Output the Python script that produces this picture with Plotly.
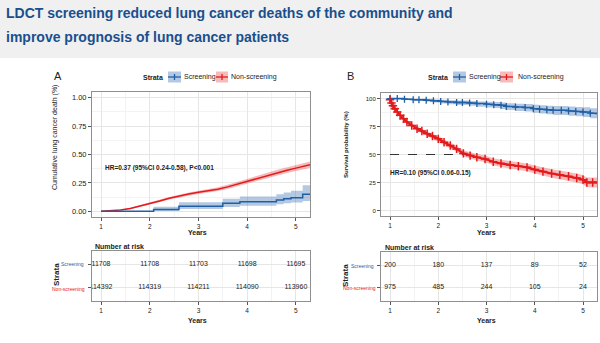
import plotly.graph_objects as go

W, H = 600, 343
def px(x): return x / W
def py(y): return 1 - y / H

# ---------------- data ----------------
title_lines = ["LDCT screening reduced lung cancer deaths of the community and",
               "improve prognosis of lung cancer patients"]
years_ticks = [1, 2, 3, 4, 5]
strata = ["Screening", "Non-screening"]

# Panel A: cumulative lung cancer death
a_ns_t = [1.0, 1.2, 1.4, 1.6, 1.8, 2.0, 2.2, 2.4, 2.6, 2.8, 3.0, 3.2, 3.4, 3.6, 3.8, 4.0, 4.2, 4.4, 4.6, 4.8, 5.0, 5.2, 5.29]
a_ns_v = [0, 0.004, 0.012, 0.025, 0.045, 0.068, 0.09, 0.115, 0.135, 0.152, 0.167, 0.18, 0.195, 0.215, 0.24, 0.265, 0.29, 0.315, 0.34, 0.36, 0.38, 0.40, 0.41]
a_ns_lo = [0, 0.002, 0.008, 0.019, 0.037, 0.058, 0.079, 0.103, 0.122, 0.138, 0.152, 0.164, 0.178, 0.197, 0.220, 0.244, 0.268, 0.292, 0.316, 0.335, 0.354, 0.373, 0.382]
a_ns_hi = [0, 0.006, 0.016, 0.031, 0.053, 0.078, 0.101, 0.127, 0.148, 0.166, 0.182, 0.196, 0.212, 0.233, 0.260, 0.286, 0.312, 0.338, 0.364, 0.385, 0.406, 0.427, 0.438]

a_s_t = [1.0, 2.08, 2.6, 3.5, 3.85, 4.6, 4.75, 4.9, 5.14, 5.29]
a_s_v = [0, 0.015, 0.045, 0.07, 0.085, 0.10, 0.11, 0.12, 0.15, 0.15]
a_s_lo = [0, 0.003, 0.02, 0.038, 0.05, 0.062, 0.07, 0.078, 0.09, 0.09]
a_s_hi = [0, 0.04, 0.08, 0.11, 0.13, 0.15, 0.165, 0.18, 0.23, 0.23]

# Panel B: survival probability (%)
b_s_t = [1.0, 1.15, 1.3, 1.48, 1.6, 1.75, 1.9, 2.05, 2.2, 2.38, 2.5, 2.65, 2.8, 3.0, 3.15, 3.3, 3.41, 3.6, 3.8, 3.97, 4.1, 4.25, 4.38, 4.55, 4.7, 4.85, 5.0, 5.15, 5.32]
b_s_v = [100, 100, 99.5, 99, 99, 98.5, 98, 97.5, 97, 96.5, 96.5, 96, 95.5, 95, 94.5, 94, 93, 92.5, 92, 91, 90.5, 90, 89.5, 89.5, 89, 88.5, 88, 87, 86.5]
b_s_lo = [100, 99.5, 98.8, 98, 97.8, 97.1, 96.4, 95.7, 95, 94.3, 94.2, 93.5, 92.8, 92.1, 91.5, 90.8, 89.7, 89, 88.4, 87.3, 86.7, 86, 85.4, 85.3, 84.7, 84.1, 83.5, 82.4, 81.8]
b_s_hi = [100, 100, 100, 99.8, 99.8, 99.5, 99.2, 98.9, 98.5, 98.2, 98.2, 97.9, 97.5, 97.2, 96.9, 96.5, 95.8, 95.4, 95.1, 94.4, 94, 93.6, 93.3, 93.3, 92.9, 92.5, 92.2, 91.4, 91]

b_ns_t = [1.0, 1.03, 1.06, 1.1, 1.15, 1.21, 1.28, 1.35, 1.45, 1.56, 1.66, 1.77, 1.88, 2.0, 2.12, 2.25, 2.38, 2.52, 2.66, 2.8, 2.97, 3.14, 3.3, 3.49, 3.66, 3.84, 4.0, 4.17, 4.35, 4.52, 4.7, 4.87, 5.0, 5.08, 5.2, 5.32]
b_ns_v = [99, 96, 93.5, 91, 88, 85, 82, 79, 76, 73, 71, 68.5, 66.5, 64, 61, 58, 55, 51, 49, 47.5, 46, 43.5, 42, 40.6, 39.5, 38.5, 36.5, 34.7, 33, 31.8, 30.5, 29, 27.5, 25, 25, 25]
b_ns_lo = [98, 94.8, 92.2, 89.6, 86.5, 83.4, 80.3, 77.2, 74.1, 71, 69, 66.4, 64.3, 61.7, 58.6, 55.5, 52.4, 48.3, 46.2, 44.6, 43, 40.4, 38.8, 37.3, 36.1, 35, 32.9, 31, 29.2, 27.9, 26.5, 24.9, 23.3, 20.6, 20.5, 20.5]
b_ns_hi = [100, 97.2, 94.8, 92.4, 89.5, 86.6, 83.7, 80.8, 77.9, 75, 73, 70.6, 68.7, 66.3, 63.4, 60.5, 57.6, 53.7, 51.8, 50.4, 49, 46.6, 45.2, 43.9, 42.9, 42, 40.1, 38.4, 36.8, 35.7, 34.5, 33.1, 31.7, 29.4, 29.5, 29.5]
b_median_ns = 2.55

# Number at risk
risk_a_s = [11708, 11708, 11703, 11698, 11695]
risk_a_ns = [114392, 114319, 114211, 114090, 113960]
risk_b_s = [200, 180, 137, 89, 52]
risk_b_ns = [975, 485, 244, 105, 24]

hr_a = "HR=0.37 (95%CI 0.24-0.58), P<0.001"
hr_b = "HR=0.10 (95%CI 0.06-0.15)"

# ---------------- style ----------------
FONT = "Liberation Sans, Arial, sans-serif"
RED = "#e31a1c"
BLUE = "#1f5fa6"
RED_BAND = "rgba(228,26,28,0.30)"
BLUE_BAND = "rgba(40,100,170,0.35)"
GRID = "#e6e6e6"
MINOR = "#f3f3f3"
BORDER = "#8f8f8f"
TXT = "#222222"

fig = go.Figure()

def band(x, lo, hi, color, xa, ya, shape):
    fig.add_trace(go.Scatter(x=x, y=lo, mode="lines", line=dict(width=0, shape=shape),
                             xaxis=xa, yaxis=ya, showlegend=False, hoverinfo="skip"))
    fig.add_trace(go.Scatter(x=x, y=hi, mode="lines", line=dict(width=0, shape=shape),
                             fill="tonexty", fillcolor=color,
                             xaxis=xa, yaxis=ya, showlegend=False, hoverinfo="skip"))

# Panel A
band(a_ns_t, a_ns_lo, a_ns_hi, RED_BAND, "x", "y", "linear")
band(a_s_t, a_s_lo, a_s_hi, BLUE_BAND, "x", "y", "hv")
fig.add_trace(go.Scatter(x=a_ns_t, y=a_ns_v, mode="lines", line=dict(color=RED, width=1.5),
                         xaxis="x", yaxis="y", showlegend=False))
fig.add_trace(go.Scatter(x=a_s_t, y=a_s_v, mode="lines", line=dict(color=BLUE, width=1.5, shape="hv"),
                         xaxis="x", yaxis="y", showlegend=False))

# Panel B
band(b_s_t, b_s_lo, b_s_hi, BLUE_BAND, "x2", "y2", "hv")
band(b_ns_t, b_ns_lo, b_ns_hi, RED_BAND, "x2", "y2", "linear")
fig.add_trace(go.Scatter(x=[1, b_median_ns], y=[50, 50], mode="lines",
                         line=dict(color="#333333", width=1, dash="dash"),
                         xaxis="x2", yaxis="y2", showlegend=False))
fig.add_trace(go.Scatter(x=b_s_t, y=b_s_v, mode="lines+markers",
                         line=dict(color=BLUE, width=1.5, shape="hv"),
                         marker=dict(symbol="cross-thin", size=5, line=dict(color=BLUE, width=1.3)),
                         xaxis="x2", yaxis="y2", showlegend=False))
fig.add_trace(go.Scatter(x=b_ns_t, y=b_ns_v, mode="lines+markers",
                         line=dict(color=RED, width=2.2),
                         marker=dict(symbol="cross-thin", size=6, line=dict(color=RED, width=1.5)),
                         xaxis="x2", yaxis="y2", showlegend=False))

# Risk tables
for xa, ya, s_vals, ns_vals in (("x3", "y3", risk_a_s, risk_a_ns), ("x4", "y4", risk_b_s, risk_b_ns)):
    fig.add_trace(go.Scatter(x=years_ticks, y=[2] * 5, text=[str(v) for v in s_vals], mode="text",
                             textfont=dict(size=7, color=TXT, family=FONT), xaxis=xa, yaxis=ya, showlegend=False))
    fig.add_trace(go.Scatter(x=years_ticks, y=[1] * 5, text=[str(v) for v in ns_vals], mode="text",
                             textfont=dict(size=7, color=TXT, family=FONT), xaxis=xa, yaxis=ya, showlegend=False))

def xax(dom, rng, anchor):
    return dict(domain=[px(dom[0]), px(dom[1])], range=rng, anchor=anchor,
                tickvals=years_ticks, ticks="outside", ticklen=3, tickcolor="#555",
                tickfont=dict(size=6.5, color=TXT, family=FONT),
                showgrid=True, gridcolor=GRID, gridwidth=1,
                minor=dict(dtick=0.5, tick0=0.5, showgrid=True, gridcolor=MINOR, ticks=""),
                showline=True, mirror=True, linecolor=BORDER, linewidth=1, zeroline=False)

def yax(dom, rng, anchor, vals, texts, minor_dtick, size=7):
    return dict(domain=[py(dom[1]), py(dom[0])], range=rng, anchor=anchor,
                tickvals=vals, ticktext=texts, ticks="outside", ticklen=3, tickcolor="#555",
                tickfont=dict(size=size, color=TXT, family=FONT),
                showgrid=True, gridcolor=GRID, gridwidth=1,
                minor=dict(dtick=minor_dtick, tick0=0, showgrid=True, gridcolor=MINOR, ticks=""),
                showline=True, mirror=True, linecolor=BORDER, linewidth=1, zeroline=False)

def table_y(dom, anchor):
    return dict(domain=[py(dom[1]), py(dom[0])], range=[0.4, 2.6], anchor=anchor,
                tickvals=[1, 2], showticklabels=False, ticks="outside", ticklen=3, tickcolor="#555",
                showgrid=True, gridcolor=GRID, showline=True, mirror=True, linecolor=BORDER,
                linewidth=1, zeroline=False)

fig.update_layout(
    width=W, height=H, margin=dict(l=0, r=0, t=0, b=0),
    paper_bgcolor="white", plot_bgcolor="white",
    font=dict(family=FONT, color=TXT),
    xaxis=xax((92, 310), [0.815, 5.29], "y"),
    yaxis=yax((92, 217), [-0.05, 1.05], "x", [0, 0.25, 0.5, 0.75, 1.0],
              ["0.00", "0.25", "0.50", "0.75", "1.00"], 0.125, 7.5),
    xaxis2=xax((381, 597), [0.813, 5.29], "y2"),
    yaxis2=yax((93, 216), [-5, 105], "x2", [0, 25, 50, 75, 100],
               ["0", "25", "50", "75", "100"], 12.5, 6),
    xaxis3=xax((92, 310), [0.815, 5.29], "y3"),
    yaxis3=table_y((251, 301), "x3"),
    xaxis4=xax((381, 597), [0.813, 5.29], "y4"),
    yaxis4=table_y((252, 301), "x4"),
)

shapes = []
annotations = []

# header band
shapes.append(dict(type="rect", xref="paper", yref="paper", x0=0, x1=1, y0=py(58), y1=1,
                   fillcolor="#f0f0f0", line=dict(width=0), layer="below"))

def ann(x, y, text, size=7, color=TXT, bold=False, xanchor="center", angle=0):
    annotations.append(dict(xref="paper", yref="paper", x=px(x), y=py(y), xanchor=xanchor,
                            yanchor="middle", text=("<b>%s</b>" % text) if bold else text,
                            showarrow=False, textangle=angle,
                            font=dict(size=size, color=color, family=FONT)))

ann(4, 13, title_lines[0], size=14, color="#1a4f8e", bold=True, xanchor="left")
ann(4, 37, title_lines[1], size=14, color="#1a4f8e", bold=True, xanchor="left")

# panel labels
ann(58, 76, "A", size=11)
ann(350, 76, "B", size=11)

# legends
def legend(x_strata, kb, xs, kr, xn, yc):
    ann(x_strata, yc, "Strata", size=7, bold=True, xanchor="left")
    for (k0, k1), col, bandc in ((kb, BLUE, BLUE_BAND), (kr, RED, RED_BAND)):
        shapes.append(dict(type="rect", xref="paper", yref="paper", x0=px(k0), x1=px(k1),
                           y0=py(yc + 5.5), y1=py(yc - 5.5), fillcolor=bandc, line=dict(width=0)))
        shapes.append(dict(type="line", xref="paper", yref="paper", x0=px(k0), x1=px(k1),
                           y0=py(yc), y1=py(yc), line=dict(color=col, width=1.3)))
        xm = (k0 + k1) / 2
        shapes.append(dict(type="line", xref="paper", yref="paper", x0=px(xm), x1=px(xm),
                           y0=py(yc - 3), y1=py(yc + 3), line=dict(color=col, width=1.3)))
    ann(xs, yc, strata[0], size=7, xanchor="left")
    ann(xn, yc, strata[1], size=7, xanchor="left")

legend(141, (168, 181), 182, (216, 228), 229, 77)
legend(426, (453, 466), 467, (500, 513), 516, 77)

# axis titles
ann(55, 137, "Cumulative lung cancer death (%)", size=7, angle=-90)
ann(346, 145, "<b>Survival probability (%)</b>", size=6, angle=-90)
ann(197, 233, "Years", size=7, bold=True)
ann(486, 233, "Years", size=7, bold=True)
ann(197, 320, "Years", size=7, bold=True)
ann(486, 320, "Years", size=7, bold=True)

# HR texts
ann(103, 168, hr_a, size=6.5, bold=True, xanchor="left")
ann(388, 173, hr_b, size=6.5, bold=True, xanchor="left")

# risk tables labels
ann(93, 246, "Number at risk", size=7, bold=True, xanchor="left")
ann(383, 247, "Number at risk", size=7, bold=True, xanchor="left")
ann(56, 275, "Strata", size=8, bold=True, angle=-90)
ann(345, 276, "Strata", size=8, bold=True, angle=-90)
ann(86, 264, strata[0], size=5, color=BLUE, xanchor="right")
ann(87, 289, strata[1], size=5, color=RED, xanchor="right")
ann(376, 266, strata[0], size=5, color=BLUE, xanchor="right")
ann(378, 288, strata[1], size=5, color=RED, xanchor="right")

fig.update_layout(shapes=shapes, annotations=annotations)
fig.write_html("out.html")
